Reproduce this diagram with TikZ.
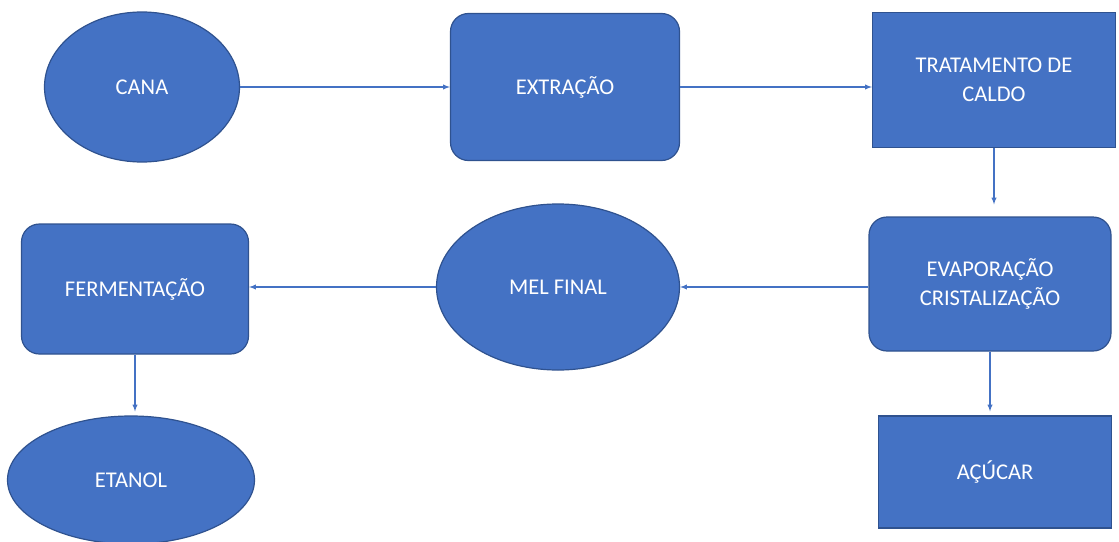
\documentclass[tikz,border=0pt]{standalone}
\usepackage{fontspec}
\setmainfont{Carlito}
\usetikzlibrary{arrows,shapes.geometric,positioning}
\definecolor{boxblue}{HTML}{4472C4}
\definecolor{edgeblue}{HTML}{2F528F}
\tikzset{
    etapa/.style={
        draw=edgeblue,
        fill=boxblue,
        line width=1.2pt,
        text=white,
        align=center,
        font=\fontsize{22.5}{29}\selectfont,
        inner sep=0pt,
    },
    caixa/.style={
        etapa,
        rectangle,
    },
    caixa red/.style={
        etapa,
        rectangle,
        rounded corners=18pt,
    },
    oval/.style={
        etapa,
        ellipse,
    },
    connector/.style={
        -latex,
        draw=boxblue,
        line width=1.3pt,
    },
}
\begin{document}
\begin{tikzpicture}[x=1pt,y=-1pt]
    \useasboundingbox (0,0) rectangle (1119,541);
    \node[oval,minimum width=195pt,minimum height=150pt] (cana) at (142,87) {CANA};
    \node[caixa red,minimum width=229pt,minimum height=147pt] (extr) at (565,87) {EXTRAÇÃO};
    \node[caixa,minimum width=243pt,minimum height=135pt] (trat) at (994,80) {TRATAMENTO DE\\CALDO};
    \node[caixa red,minimum width=242pt,minimum height=134pt] (evap) at (990,284) {EVAPORAÇÃO\\CRISTALIZAÇÃO};
    \node[oval,minimum width=243pt,minimum height=166pt] (mel) at (558,287) {MEL FINAL};
    \node[caixa red,minimum width=227pt,minimum height=130pt] (ferm) at (135,289) {FERMENTAÇÃO};
    \node[oval,minimum width=247pt,minimum height=128pt] (etanol) at (131,480) {ETANOL};
    \node[caixa,minimum width=233pt,minimum height=112pt] (acucar) at (995,472) {AÇÚCAR};
    % ligacoes
    \draw[connector] (cana.east) -- (extr.west);
    \draw[connector] (extr.east) -- (extr.east -| trat.west);
    \draw[connector,shorten >=12pt] (trat.south) -- (trat.south |- evap.north);
    \draw[connector] (evap.west |- mel.east) -- (mel.east);
    \draw[connector] (mel.west) -- (mel.west -| ferm.east);
    \draw[connector,shorten >=4pt] (ferm.south) -- (ferm.south |- etanol.north);
    \draw[connector,shorten >=4pt] (evap.south) -- (evap.south |- acucar.north);
\end{tikzpicture}
\end{document}
